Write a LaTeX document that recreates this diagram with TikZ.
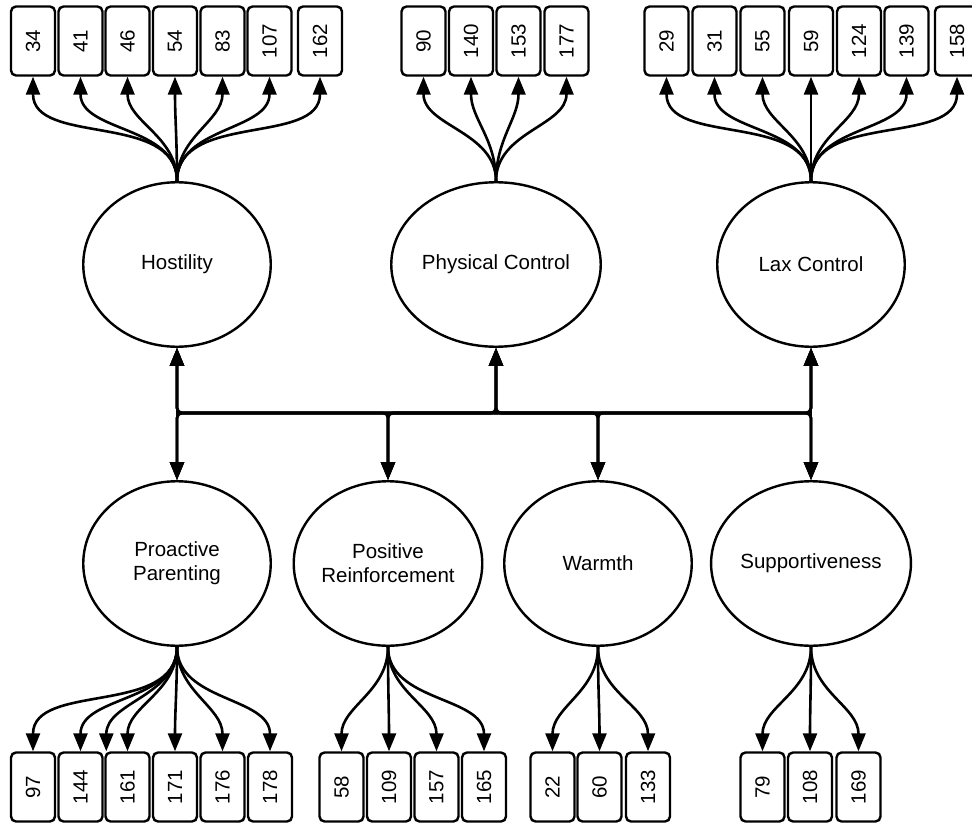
\documentclass[tikz,border=0pt]{standalone}
\usepackage{fontspec}
\setmainfont{Liberation Sans}
\usetikzlibrary{arrows.meta,shapes.geometric}
\begin{document}
\begin{tikzpicture}[x=1pt,y=1pt,
  every node/.style={font=\fontsize{20.5}{24}\selectfont},
  latent/.style={ellipse,draw,line width=2.4pt,fill=white,minimum width=187.5pt,
    minimum height=164.5pt,inner sep=0pt,align=center},
  item/.style={draw,line width=2.4pt,rounded corners=5pt,fill=white,
    minimum width=44pt,minimum height=69pt,inner sep=0pt},
  load/.style={line width=2.6pt,-{Triangle[length=18pt,width=14pt]}},
  corr/.style={line width=2.6pt,{Triangle[length=18pt,width=14pt]}-{Triangle[length=18pt,width=14pt]},
    rounded corners=5pt},
]
\useasboundingbox (0,0) rectangle (972,-824);

% latent factors
\node[latent] (H)  at (177,-264.5) {Hostility};
\node[latent] (PC) at (496,-264.5) {Physical Control};
\node[latent] (LC) at (811,-264.5) {Lax Control};
\node[latent] (PP) at (177,-563.5) {Proactive\\Parenting};
\node[latent] (PR) at (388,-563.5) {Positive\\Reinforcement};
\node[latent] (W)  at (598,-563.5) {Warmth};
\node[latent] (S)  at (811,-563.5) {Supportiveness};

% indicator items, top row
\foreach \n/\x in {34/33,41/80.5,46/127.5,54/175,83/222.5,107/269.5,162/320}
  \node[item] (h\n) at (\x,-41) {\rotatebox{90}{\n}};
\foreach \n/\x in {90/423.5,140/471,153/518.5,177/566.5}
  \node[item] (p\n) at (\x,-41) {\rotatebox{90}{\n}};
\foreach \n/\x in {29/666.5,31/714.5,55/762.5,59/811,124/859,139/906.5,158/957}
  \node[item] (l\n) at (\x,-41) {\rotatebox{90}{\n}};

% indicator items, bottom row
\foreach \n/\x in {97/33,144/80.5,161/127.5,171/175,176/222.5,178/270}
  \node[item] (a\n) at (\x,-787) {\rotatebox{90}{\n}};
\foreach \n/\x in {58/341.5,109/389,157/436.5,165/484}
  \node[item] (r\n) at (\x,-787) {\rotatebox{90}{\n}};
\foreach \n/\x in {22/552.5,60/599.5,133/648}
  \node[item] (w\n) at (\x,-787) {\rotatebox{90}{\n}};
\foreach \n/\x in {79/762.5,108/810,169/858.5}
  \node[item] (s\n) at (\x,-787) {\rotatebox{90}{\n}};

\coordinate (extra) at ([xshift=2pt]a161.north west);
\coordinate (bus) at (0,-413);

% loadings
\foreach \n in {34,41,46,54,83,107,162}
  \draw[load] (H.north) to[out=90,in=-90] (h\n.south);
\foreach \n in {90,140,153,177}
  \draw[load] (PC.north) to[out=90,in=-90] (p\n.south);
\foreach \n in {29,31,55,59,124,139,158}
  \draw[load] (LC.north) to[out=90,in=-90] (l\n.south);
\foreach \t in {a97.north,a144.north,extra,a161.north,a171.north,a176.north,a178.north}
  \draw[load] (PP.south) to[out=-90,in=90] (\t);
\foreach \n in {58,109,157,165}
  \draw[load] (PR.south) to[out=-90,in=90] (r\n.north);
\foreach \n in {22,60,133}
  \draw[load] (W.south) to[out=-90,in=90] (w\n.north);
\foreach \n in {79,108,169}
  \draw[load] (S.south) to[out=-90,in=90] (s\n.north);

% factor correlations
\draw[corr] (H.south) -- (PP.north);
\foreach \b in {PR,W,S}
  \draw[corr] (H.south) |- (\b.north |- bus) -- (\b.north);
\foreach \b in {PP,PR,W,S}
  \draw[corr] (PC.south) |- (\b.north |- bus) -- (\b.north);
\foreach \b in {PP,PR,W}
  \draw[corr] (LC.south) |- (\b.north |- bus) -- (\b.north);
\draw[corr] (LC.south) -- (S.north);
\end{tikzpicture}
\end{document}
